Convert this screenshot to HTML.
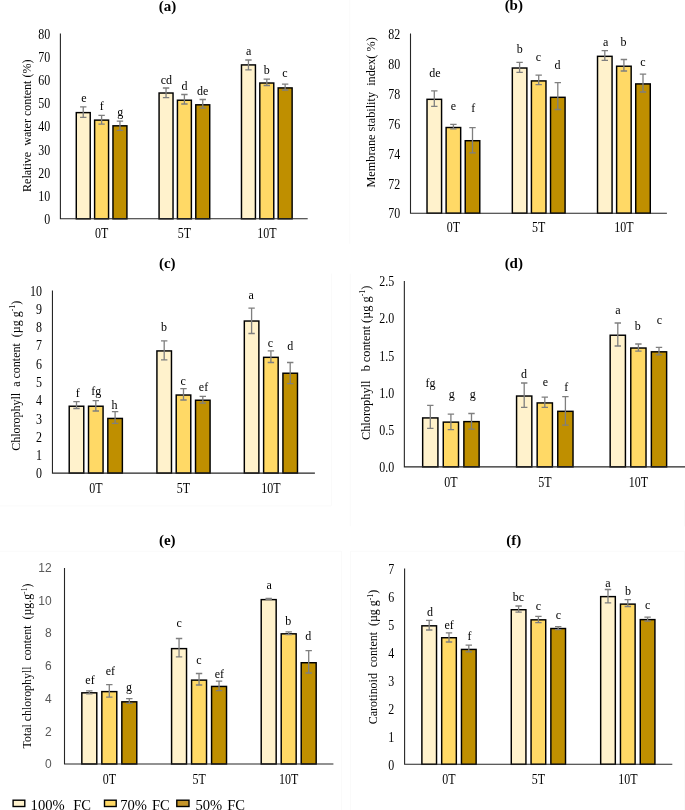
<!DOCTYPE html>
<html><head><meta charset="utf-8"><title>Chart</title>
<style>html,body{margin:0;padding:0;background:#fff;}svg{display:block;filter:blur(0.4px);}</style></head>
<body><svg width="685" height="810" viewBox="0 0 685 810">
<rect width="685" height="810" fill="#fff"/>
<path d="M684.5 551.2V810" stroke="#FAFAFA" stroke-width="1" fill="none"/>
<path d="M684.5 500V526.4" stroke="#FAFAFA" stroke-width="1" fill="none"/>
<path d="M350.5 551.2V810" stroke="#FAFAFA" stroke-width="1" fill="none"/>
<path d="M341.5 551.2V810" stroke="#FAFAFA" stroke-width="1" fill="none"/>
<path d="M350.5 551.2H685" stroke="#FAFAFA" stroke-width="1" fill="none"/>
<path d="M0 551.2H341.5" stroke="#FAFAFA" stroke-width="1" fill="none"/>
<path d="M0 505.9H331.4" stroke="#FAFAFA" stroke-width="1" fill="none"/>
<path d="M331.4 273.6V505.9" stroke="#FAFAFA" stroke-width="1" fill="none"/>
<path d="M350.3 273.6V526.4" stroke="#FAFAFA" stroke-width="1" fill="none"/>
<path d="M349.8 0V243.8" stroke="#FAFAFA" stroke-width="1" fill="none"/>
<g id="pa">
<rect x="76.28" y="112.62" width="13.95" height="106.18" fill="#FFF2CC" stroke="#000" stroke-width="1.45"/>
<rect x="94.62" y="120.12" width="13.95" height="98.68" fill="#FFD966" stroke="#000" stroke-width="1.45"/>
<rect x="112.97" y="125.82" width="13.95" height="92.98" fill="#BF8F00" stroke="#000" stroke-width="1.45"/>
<rect x="159.08" y="93.02" width="13.95" height="125.78" fill="#FFF2CC" stroke="#000" stroke-width="1.45"/>
<rect x="177.43" y="100.22" width="13.95" height="118.58" fill="#FFD966" stroke="#000" stroke-width="1.45"/>
<rect x="195.78" y="104.82" width="13.95" height="113.98" fill="#BF8F00" stroke="#000" stroke-width="1.45"/>
<rect x="241.48" y="64.92" width="13.95" height="153.88" fill="#FFF2CC" stroke="#000" stroke-width="1.45"/>
<rect x="259.82" y="83.02" width="13.95" height="135.78" fill="#FFD966" stroke="#000" stroke-width="1.45"/>
<rect x="278.18" y="87.92" width="13.95" height="130.88" fill="#BF8F00" stroke="#000" stroke-width="1.45"/>
<path d="M83.25 106.9V117.4M80.05 106.9H86.45M80.05 117.4H86.45" stroke="#7F7F7F" stroke-width="1.3" fill="none"/>
<path d="M101.6 115.4V124.1M98.4 115.4H104.8M98.4 124.1H104.8" stroke="#7F7F7F" stroke-width="1.3" fill="none"/>
<path d="M119.95 121.1V130.3M116.75 121.1H123.15M116.75 130.3H123.15" stroke="#7F7F7F" stroke-width="1.3" fill="none"/>
<path d="M166.05 88V97.7M162.85 88H169.25M162.85 97.7H169.25" stroke="#7F7F7F" stroke-width="1.3" fill="none"/>
<path d="M184.4 94.5V104M181.2 94.5H187.6M181.2 104H187.6" stroke="#7F7F7F" stroke-width="1.3" fill="none"/>
<path d="M202.75 99.5V108.2M199.55 99.5H205.95M199.55 108.2H205.95" stroke="#7F7F7F" stroke-width="1.3" fill="none"/>
<path d="M248.45 60V69.9M245.25 60H251.65M245.25 69.9H251.65" stroke="#7F7F7F" stroke-width="1.3" fill="none"/>
<path d="M266.8 79.1V85.5M263.6 79.1H270M263.6 85.5H270" stroke="#7F7F7F" stroke-width="1.3" fill="none"/>
<path d="M285.15 84.2V90M281.95 84.2H288.35M281.95 90H288.35" stroke="#7F7F7F" stroke-width="1.3" fill="none"/>
<path d="M60.4 33.6V218.8H307.7" stroke="#262626" stroke-width="1.1" fill="none"/>
<text transform="translate(50.3 224.03) scale(0.855 1)" font-family='"Liberation Serif", serif' font-size="14.0" fill="#000" text-anchor="end">0</text>
<text transform="translate(50.3 200.88) scale(0.855 1)" font-family='"Liberation Serif", serif' font-size="14.0" fill="#000" text-anchor="end">10</text>
<text transform="translate(50.3 177.73) scale(0.855 1)" font-family='"Liberation Serif", serif' font-size="14.0" fill="#000" text-anchor="end">20</text>
<text transform="translate(50.3 154.58) scale(0.855 1)" font-family='"Liberation Serif", serif' font-size="14.0" fill="#000" text-anchor="end">30</text>
<text transform="translate(50.3 131.43) scale(0.855 1)" font-family='"Liberation Serif", serif' font-size="14.0" fill="#000" text-anchor="end">40</text>
<text transform="translate(50.3 108.28) scale(0.855 1)" font-family='"Liberation Serif", serif' font-size="14.0" fill="#000" text-anchor="end">50</text>
<text transform="translate(50.3 85.13) scale(0.855 1)" font-family='"Liberation Serif", serif' font-size="14.0" fill="#000" text-anchor="end">60</text>
<text transform="translate(50.3 61.98) scale(0.855 1)" font-family='"Liberation Serif", serif' font-size="14.0" fill="#000" text-anchor="end">70</text>
<text transform="translate(50.3 38.83) scale(0.855 1)" font-family='"Liberation Serif", serif' font-size="14.0" fill="#000" text-anchor="end">80</text>
<text transform="translate(101.6 238.03) scale(0.855 1)" font-family='"Liberation Serif", serif' font-size="14.0" text-anchor="middle">0T</text>
<text transform="translate(184.4 238.03) scale(0.855 1)" font-family='"Liberation Serif", serif' font-size="14.0" text-anchor="middle">5T</text>
<text transform="translate(266.8 238.03) scale(0.855 1)" font-family='"Liberation Serif", serif' font-size="14.0" text-anchor="middle">10T</text>
<text x="83.9" y="102.05" font-family='"Liberation Serif", serif' font-size="12" text-anchor="middle">e</text>
<text x="101.7" y="110.1" font-family='"Liberation Serif", serif' font-size="12" text-anchor="middle">f</text>
<text x="120.3" y="115.55" font-family='"Liberation Serif", serif' font-size="12" text-anchor="middle">g</text>
<text x="166.3" y="84.2" font-family='"Liberation Serif", serif' font-size="12" text-anchor="middle">cd</text>
<text x="184.4" y="90" font-family='"Liberation Serif", serif' font-size="12" text-anchor="middle">d</text>
<text x="202.7" y="95.1" font-family='"Liberation Serif", serif' font-size="12" text-anchor="middle">de</text>
<text x="248.7" y="54.85" font-family='"Liberation Serif", serif' font-size="12" text-anchor="middle">a</text>
<text x="266.8" y="74.1" font-family='"Liberation Serif", serif' font-size="12" text-anchor="middle">b</text>
<text x="284.9" y="77.15" font-family='"Liberation Serif", serif' font-size="12" text-anchor="middle">c</text>
<text x="167.5" y="10.5" font-family='"Liberation Serif", serif' font-size="15" font-weight="bold" text-anchor="middle">(a)</text>
<text transform="translate(31 125.7) rotate(-90)" font-family='"Liberation Serif", serif' font-size="12.05" text-anchor="middle" style="white-space:pre">Relative  water content (%)</text>
</g>
<g id="pb">
<rect x="427.02" y="99.32" width="14.55" height="113.88" fill="#FFF2CC" stroke="#000" stroke-width="1.45"/>
<rect x="446.12" y="127.52" width="14.55" height="85.67" fill="#FFD966" stroke="#000" stroke-width="1.45"/>
<rect x="465.23" y="140.72" width="14.55" height="72.47" fill="#BF8F00" stroke="#000" stroke-width="1.45"/>
<rect x="512.33" y="68.02" width="14.55" height="145.18" fill="#FFF2CC" stroke="#000" stroke-width="1.45"/>
<rect x="531.43" y="80.92" width="14.55" height="132.27" fill="#FFD966" stroke="#000" stroke-width="1.45"/>
<rect x="550.53" y="97.32" width="14.55" height="115.88" fill="#BF8F00" stroke="#000" stroke-width="1.45"/>
<rect x="597.52" y="56.33" width="14.55" height="156.88" fill="#FFF2CC" stroke="#000" stroke-width="1.45"/>
<rect x="616.62" y="66.22" width="14.55" height="146.97" fill="#FFD966" stroke="#000" stroke-width="1.45"/>
<rect x="635.73" y="83.92" width="14.55" height="129.27" fill="#BF8F00" stroke="#000" stroke-width="1.45"/>
<path d="M434.3 90.9V106.3M431.1 90.9H437.5M431.1 106.3H437.5" stroke="#7F7F7F" stroke-width="1.3" fill="none"/>
<path d="M453.4 124.4V128.8M450.2 124.4H456.6M450.2 128.8H456.6" stroke="#7F7F7F" stroke-width="1.3" fill="none"/>
<path d="M472.5 127.6V152.9M469.3 127.6H475.7M469.3 152.9H475.7" stroke="#7F7F7F" stroke-width="1.3" fill="none"/>
<path d="M519.6 62.3V72.3M516.4 62.3H522.8M516.4 72.3H522.8" stroke="#7F7F7F" stroke-width="1.3" fill="none"/>
<path d="M538.7 75.2V84.7M535.5 75.2H541.9M535.5 84.7H541.9" stroke="#7F7F7F" stroke-width="1.3" fill="none"/>
<path d="M557.8 82.7V109.5M554.6 82.7H561M554.6 109.5H561" stroke="#7F7F7F" stroke-width="1.3" fill="none"/>
<path d="M604.8 50.7V60.3M601.6 50.7H608M601.6 60.3H608" stroke="#7F7F7F" stroke-width="1.3" fill="none"/>
<path d="M623.9 59.5V71M620.7 59.5H627.1M620.7 71H627.1" stroke="#7F7F7F" stroke-width="1.3" fill="none"/>
<path d="M643 74.1V92M639.8 74.1H646.2M639.8 92H646.2" stroke="#7F7F7F" stroke-width="1.3" fill="none"/>
<path d="M410.5 33.6V213.2H666.9" stroke="#262626" stroke-width="1.1" fill="none"/>
<text transform="translate(400.2 218.43) scale(0.855 1)" font-family='"Liberation Serif", serif' font-size="14.0" fill="#000" text-anchor="end">70</text>
<text transform="translate(400.2 188.5) scale(0.855 1)" font-family='"Liberation Serif", serif' font-size="14.0" fill="#000" text-anchor="end">72</text>
<text transform="translate(400.2 158.57) scale(0.855 1)" font-family='"Liberation Serif", serif' font-size="14.0" fill="#000" text-anchor="end">74</text>
<text transform="translate(400.2 128.63) scale(0.855 1)" font-family='"Liberation Serif", serif' font-size="14.0" fill="#000" text-anchor="end">76</text>
<text transform="translate(400.2 98.7) scale(0.855 1)" font-family='"Liberation Serif", serif' font-size="14.0" fill="#000" text-anchor="end">78</text>
<text transform="translate(400.2 68.77) scale(0.855 1)" font-family='"Liberation Serif", serif' font-size="14.0" fill="#000" text-anchor="end">80</text>
<text transform="translate(400.2 38.83) scale(0.855 1)" font-family='"Liberation Serif", serif' font-size="14.0" fill="#000" text-anchor="end">82</text>
<text transform="translate(453.4 231.53) scale(0.855 1)" font-family='"Liberation Serif", serif' font-size="14.0" text-anchor="middle">0T</text>
<text transform="translate(538.7 231.53) scale(0.855 1)" font-family='"Liberation Serif", serif' font-size="14.0" text-anchor="middle">5T</text>
<text transform="translate(623.9 231.53) scale(0.855 1)" font-family='"Liberation Serif", serif' font-size="14.0" text-anchor="middle">10T</text>
<text x="434.8" y="77.1" font-family='"Liberation Serif", serif' font-size="12" text-anchor="middle">de</text>
<text x="453.4" y="109.75" font-family='"Liberation Serif", serif' font-size="12" text-anchor="middle">e</text>
<text x="473.3" y="111.6" font-family='"Liberation Serif", serif' font-size="12" text-anchor="middle">f</text>
<text x="519.7" y="53.3" font-family='"Liberation Serif", serif' font-size="12" text-anchor="middle">b</text>
<text x="538.5" y="60.65" font-family='"Liberation Serif", serif' font-size="12" text-anchor="middle">c</text>
<text x="557.6" y="69.4" font-family='"Liberation Serif", serif' font-size="12" text-anchor="middle">d</text>
<text x="605.6" y="45.75" font-family='"Liberation Serif", serif' font-size="12" text-anchor="middle">a</text>
<text x="623.4" y="46.3" font-family='"Liberation Serif", serif' font-size="12" text-anchor="middle">b</text>
<text x="643" y="66.15" font-family='"Liberation Serif", serif' font-size="12" text-anchor="middle">c</text>
<text x="513.8" y="10.3" font-family='"Liberation Serif", serif' font-size="15" font-weight="bold" text-anchor="middle">(b)</text>
<text transform="translate(374.9 112.4) rotate(-90)" font-family='"Liberation Serif", serif' font-size="12.25" text-anchor="middle" style="white-space:pre">Membrane stability  index( %)</text>
</g>
<g id="pc">
<rect x="69.22" y="406.23" width="14.55" height="66.88" fill="#FFF2CC" stroke="#000" stroke-width="1.45"/>
<rect x="88.52" y="406.23" width="14.55" height="66.88" fill="#FFD966" stroke="#000" stroke-width="1.45"/>
<rect x="107.82" y="418.43" width="14.55" height="54.68" fill="#BF8F00" stroke="#000" stroke-width="1.45"/>
<rect x="156.92" y="350.93" width="14.55" height="122.18" fill="#FFF2CC" stroke="#000" stroke-width="1.45"/>
<rect x="176.22" y="395.03" width="14.55" height="78.07" fill="#FFD966" stroke="#000" stroke-width="1.45"/>
<rect x="195.53" y="400.23" width="14.55" height="72.88" fill="#BF8F00" stroke="#000" stroke-width="1.45"/>
<rect x="244.32" y="321.03" width="14.55" height="152.07" fill="#FFF2CC" stroke="#000" stroke-width="1.45"/>
<rect x="263.62" y="357.33" width="14.55" height="115.77" fill="#FFD966" stroke="#000" stroke-width="1.45"/>
<rect x="282.93" y="373.23" width="14.55" height="99.88" fill="#BF8F00" stroke="#000" stroke-width="1.45"/>
<path d="M76.5 401.6V408.5M73.3 401.6H79.7M73.3 408.5H79.7" stroke="#7F7F7F" stroke-width="1.3" fill="none"/>
<path d="M95.8 400.6V411M92.6 400.6H99M92.6 411H99" stroke="#7F7F7F" stroke-width="1.3" fill="none"/>
<path d="M115.1 411.7V423.4M111.9 411.7H118.3M111.9 423.4H118.3" stroke="#7F7F7F" stroke-width="1.3" fill="none"/>
<path d="M164.2 340.8V359.9M161 340.8H167.4M161 359.9H167.4" stroke="#7F7F7F" stroke-width="1.3" fill="none"/>
<path d="M183.5 388.6V400M180.3 388.6H186.7M180.3 400H186.7" stroke="#7F7F7F" stroke-width="1.3" fill="none"/>
<path d="M202.8 396.3V403.2M199.6 396.3H206M199.6 403.2H206" stroke="#7F7F7F" stroke-width="1.3" fill="none"/>
<path d="M251.6 308.2V333.5M248.4 308.2H254.8M248.4 333.5H254.8" stroke="#7F7F7F" stroke-width="1.3" fill="none"/>
<path d="M270.9 350.9V362.5M267.7 350.9H274.1M267.7 362.5H274.1" stroke="#7F7F7F" stroke-width="1.3" fill="none"/>
<path d="M290.2 362.5V383.6M287 362.5H293.4M287 383.6H293.4" stroke="#7F7F7F" stroke-width="1.3" fill="none"/>
<path d="M52.45 290.4V473.1H314.9" stroke="#262626" stroke-width="1.1" fill="none"/>
<text transform="translate(42 478.33) scale(0.855 1)" font-family='"Liberation Serif", serif' font-size="14.0" fill="#000" text-anchor="end">0</text>
<text transform="translate(42 460.06) scale(0.855 1)" font-family='"Liberation Serif", serif' font-size="14.0" fill="#000" text-anchor="end">1</text>
<text transform="translate(42 441.79) scale(0.855 1)" font-family='"Liberation Serif", serif' font-size="14.0" fill="#000" text-anchor="end">2</text>
<text transform="translate(42 423.52) scale(0.855 1)" font-family='"Liberation Serif", serif' font-size="14.0" fill="#000" text-anchor="end">3</text>
<text transform="translate(42 405.25) scale(0.855 1)" font-family='"Liberation Serif", serif' font-size="14.0" fill="#000" text-anchor="end">4</text>
<text transform="translate(42 386.98) scale(0.855 1)" font-family='"Liberation Serif", serif' font-size="14.0" fill="#000" text-anchor="end">5</text>
<text transform="translate(42 368.71) scale(0.855 1)" font-family='"Liberation Serif", serif' font-size="14.0" fill="#000" text-anchor="end">6</text>
<text transform="translate(42 350.44) scale(0.855 1)" font-family='"Liberation Serif", serif' font-size="14.0" fill="#000" text-anchor="end">7</text>
<text transform="translate(42 332.17) scale(0.855 1)" font-family='"Liberation Serif", serif' font-size="14.0" fill="#000" text-anchor="end">8</text>
<text transform="translate(42 313.9) scale(0.855 1)" font-family='"Liberation Serif", serif' font-size="14.0" fill="#000" text-anchor="end">9</text>
<text transform="translate(42 295.63) scale(0.855 1)" font-family='"Liberation Serif", serif' font-size="14.0" fill="#000" text-anchor="end">10</text>
<text transform="translate(95.8 492.93) scale(0.855 1)" font-family='"Liberation Serif", serif' font-size="14.0" text-anchor="middle">0T</text>
<text transform="translate(183.5 492.93) scale(0.855 1)" font-family='"Liberation Serif", serif' font-size="14.0" text-anchor="middle">5T</text>
<text transform="translate(270.9 492.93) scale(0.855 1)" font-family='"Liberation Serif", serif' font-size="14.0" text-anchor="middle">10T</text>
<text x="77.7" y="396.5" font-family='"Liberation Serif", serif' font-size="12" text-anchor="middle">f</text>
<text x="96.3" y="394.8" font-family='"Liberation Serif", serif' font-size="12" text-anchor="middle">fg</text>
<text x="114.6" y="408.9" font-family='"Liberation Serif", serif' font-size="12" text-anchor="middle">h</text>
<text x="164" y="330.7" font-family='"Liberation Serif", serif' font-size="12" text-anchor="middle">b</text>
<text x="183.2" y="384.65" font-family='"Liberation Serif", serif' font-size="12" text-anchor="middle">c</text>
<text x="203.5" y="390.9" font-family='"Liberation Serif", serif' font-size="12" text-anchor="middle">ef</text>
<text x="251.1" y="299.35" font-family='"Liberation Serif", serif' font-size="12" text-anchor="middle">a</text>
<text x="270.5" y="346.95" font-family='"Liberation Serif", serif' font-size="12" text-anchor="middle">c</text>
<text x="290.3" y="350" font-family='"Liberation Serif", serif' font-size="12" text-anchor="middle">d</text>
<text x="167.3" y="268" font-family='"Liberation Serif", serif' font-size="15" font-weight="bold" text-anchor="middle">(c)</text>
<text transform="translate(19.8 375.8) rotate(-90)" font-family='"Liberation Serif", serif' font-size="12.0" text-anchor="middle" style="white-space:pre">Chlorophyll  a content  (µg g<tspan font-size="7.8" dy="-4.6">-1</tspan><tspan dy="4.6">)</tspan></text>
</g>
<g id="pd">
<rect x="422.67" y="417.93" width="15.25" height="48.93" fill="#FFF2CC" stroke="#000" stroke-width="1.45"/>
<rect x="443.27" y="422.12" width="15.25" height="44.73" fill="#FFD966" stroke="#000" stroke-width="1.45"/>
<rect x="463.88" y="421.62" width="15.25" height="45.23" fill="#BF8F00" stroke="#000" stroke-width="1.45"/>
<rect x="516.57" y="396.03" width="15.25" height="70.82" fill="#FFF2CC" stroke="#000" stroke-width="1.45"/>
<rect x="537.17" y="402.93" width="15.25" height="63.93" fill="#FFD966" stroke="#000" stroke-width="1.45"/>
<rect x="557.77" y="411.33" width="15.25" height="55.52" fill="#BF8F00" stroke="#000" stroke-width="1.45"/>
<rect x="610.17" y="335.23" width="15.25" height="131.62" fill="#FFF2CC" stroke="#000" stroke-width="1.45"/>
<rect x="630.77" y="348.03" width="15.25" height="118.82" fill="#FFD966" stroke="#000" stroke-width="1.45"/>
<rect x="651.38" y="351.83" width="15.25" height="115.02" fill="#BF8F00" stroke="#000" stroke-width="1.45"/>
<path d="M430.3 405.3V428.3M427.1 405.3H433.5M427.1 428.3H433.5" stroke="#7F7F7F" stroke-width="1.3" fill="none"/>
<path d="M450.9 414.2V429.6M447.7 414.2H454.1M447.7 429.6H454.1" stroke="#7F7F7F" stroke-width="1.3" fill="none"/>
<path d="M471.5 413.5V429.1M468.3 413.5H474.7M468.3 429.1H474.7" stroke="#7F7F7F" stroke-width="1.3" fill="none"/>
<path d="M524.2 383V407.3M521 383H527.4M521 407.3H527.4" stroke="#7F7F7F" stroke-width="1.3" fill="none"/>
<path d="M544.8 397.1V407.3M541.6 397.1H548M541.6 407.3H548" stroke="#7F7F7F" stroke-width="1.3" fill="none"/>
<path d="M565.4 396.6V425.2M562.2 396.6H568.6M562.2 425.2H568.6" stroke="#7F7F7F" stroke-width="1.3" fill="none"/>
<path d="M617.8 323V346M614.6 323H621M614.6 346H621" stroke="#7F7F7F" stroke-width="1.3" fill="none"/>
<path d="M638.4 344V351.1M635.2 344H641.6M635.2 351.1H641.6" stroke="#7F7F7F" stroke-width="1.3" fill="none"/>
<path d="M659 347.3V354.9M655.8 347.3H662.2M655.8 354.9H662.2" stroke="#7F7F7F" stroke-width="1.3" fill="none"/>
<path d="M404.35 281V466.85H685" stroke="#262626" stroke-width="1.1" fill="none"/>
<text transform="translate(394.3 472.08) scale(0.855 1)" font-family='"Liberation Serif", serif' font-size="14.0" fill="#000" text-anchor="end">0.0</text>
<text transform="translate(394.3 434.91) scale(0.855 1)" font-family='"Liberation Serif", serif' font-size="14.0" fill="#000" text-anchor="end">0.5</text>
<text transform="translate(394.3 397.74) scale(0.855 1)" font-family='"Liberation Serif", serif' font-size="14.0" fill="#000" text-anchor="end">1.0</text>
<text transform="translate(394.3 360.57) scale(0.855 1)" font-family='"Liberation Serif", serif' font-size="14.0" fill="#000" text-anchor="end">1.5</text>
<text transform="translate(394.3 323.4) scale(0.855 1)" font-family='"Liberation Serif", serif' font-size="14.0" fill="#000" text-anchor="end">2.0</text>
<text transform="translate(394.3 286.23) scale(0.855 1)" font-family='"Liberation Serif", serif' font-size="14.0" fill="#000" text-anchor="end">2.5</text>
<text transform="translate(450.9 486.73) scale(0.855 1)" font-family='"Liberation Serif", serif' font-size="14.0" text-anchor="middle">0T</text>
<text transform="translate(544.8 486.73) scale(0.855 1)" font-family='"Liberation Serif", serif' font-size="14.0" text-anchor="middle">5T</text>
<text transform="translate(638.4 486.73) scale(0.855 1)" font-family='"Liberation Serif", serif' font-size="14.0" text-anchor="middle">10T</text>
<text x="430.6" y="387.2" font-family='"Liberation Serif", serif' font-size="12" text-anchor="middle">fg</text>
<text x="451.7" y="398.05" font-family='"Liberation Serif", serif' font-size="12" text-anchor="middle">g</text>
<text x="472.8" y="398.05" font-family='"Liberation Serif", serif' font-size="12" text-anchor="middle">g</text>
<text x="524" y="378.2" font-family='"Liberation Serif", serif' font-size="12" text-anchor="middle">d</text>
<text x="545.3" y="385.75" font-family='"Liberation Serif", serif' font-size="12" text-anchor="middle">e</text>
<text x="566.2" y="390.5" font-family='"Liberation Serif", serif' font-size="12" text-anchor="middle">f</text>
<text x="617.8" y="314.25" font-family='"Liberation Serif", serif' font-size="12" text-anchor="middle">a</text>
<text x="637.7" y="330.4" font-family='"Liberation Serif", serif' font-size="12" text-anchor="middle">b</text>
<text x="659.5" y="324.45" font-family='"Liberation Serif", serif' font-size="12" text-anchor="middle">c</text>
<text x="513.8" y="268" font-family='"Liberation Serif", serif' font-size="15" font-weight="bold" text-anchor="middle">(d)</text>
<text transform="translate(369.5 362.8) rotate(-90)" font-family='"Liberation Serif", serif' font-size="12.3" text-anchor="middle" style="white-space:pre">Chlorophyll   b content (µg g<tspan font-size="8.0" dy="-4.7">-1</tspan><tspan dy="4.7">)</tspan></text>
</g>
<g id="pe">
<rect x="81.83" y="692.83" width="14.95" height="71.17" fill="#FFF2CC" stroke="#000" stroke-width="1.45"/>
<rect x="101.83" y="691.62" width="14.95" height="72.38" fill="#FFD966" stroke="#000" stroke-width="1.45"/>
<rect x="121.83" y="701.83" width="14.95" height="62.17" fill="#BF8F00" stroke="#000" stroke-width="1.45"/>
<rect x="171.58" y="648.62" width="14.95" height="115.38" fill="#FFF2CC" stroke="#000" stroke-width="1.45"/>
<rect x="191.58" y="680.12" width="14.95" height="83.88" fill="#FFD966" stroke="#000" stroke-width="1.45"/>
<rect x="211.58" y="686.43" width="14.95" height="77.57" fill="#BF8F00" stroke="#000" stroke-width="1.45"/>
<rect x="261.22" y="599.62" width="14.95" height="164.38" fill="#FFF2CC" stroke="#000" stroke-width="1.45"/>
<rect x="281.22" y="633.83" width="14.95" height="130.17" fill="#FFD966" stroke="#000" stroke-width="1.45"/>
<rect x="301.22" y="662.73" width="14.95" height="101.27" fill="#BF8F00" stroke="#000" stroke-width="1.45"/>
<path d="M89.3 690.9V693.9M86.1 690.9H92.5M86.1 693.9H92.5" stroke="#7F7F7F" stroke-width="1.3" fill="none"/>
<path d="M109.3 684.7V697.1M106.1 684.7H112.5M106.1 697.1H112.5" stroke="#7F7F7F" stroke-width="1.3" fill="none"/>
<path d="M129.3 698.6V703.3M126.1 698.6H132.5M126.1 703.3H132.5" stroke="#7F7F7F" stroke-width="1.3" fill="none"/>
<path d="M179.05 638.5V656.9M175.85 638.5H182.25M175.85 656.9H182.25" stroke="#7F7F7F" stroke-width="1.3" fill="none"/>
<path d="M199.05 673.5V685M195.85 673.5H202.25M195.85 685H202.25" stroke="#7F7F7F" stroke-width="1.3" fill="none"/>
<path d="M219.05 681.1V690.6M215.85 681.1H222.25M215.85 690.6H222.25" stroke="#7F7F7F" stroke-width="1.3" fill="none"/>
<path d="M268.7 598.4V599.4M265.5 598.4H271.9M265.5 599.4H271.9" stroke="#7F7F7F" stroke-width="1.3" fill="none"/>
<path d="M288.7 631.8V634.6M285.5 631.8H291.9M285.5 634.6H291.9" stroke="#7F7F7F" stroke-width="1.3" fill="none"/>
<path d="M308.7 650.7V673M305.5 650.7H311.9M305.5 673H311.9" stroke="#7F7F7F" stroke-width="1.3" fill="none"/>
<path d="M64.5 568V764H333.4" stroke="#262626" stroke-width="1.1" fill="none"/>
<text x="51.6" y="768.3" font-family='"Liberation Sans", sans-serif' font-size="12" fill="#595959" text-anchor="end">0</text>
<text x="51.6" y="735.55" font-family='"Liberation Sans", sans-serif' font-size="12" fill="#595959" text-anchor="end">2</text>
<text x="51.6" y="702.8" font-family='"Liberation Sans", sans-serif' font-size="12" fill="#595959" text-anchor="end">4</text>
<text x="51.6" y="670.05" font-family='"Liberation Sans", sans-serif' font-size="12" fill="#595959" text-anchor="end">6</text>
<text x="51.6" y="637.3" font-family='"Liberation Sans", sans-serif' font-size="12" fill="#595959" text-anchor="end">8</text>
<text x="51.6" y="604.55" font-family='"Liberation Sans", sans-serif' font-size="12" fill="#595959" text-anchor="end">10</text>
<text x="51.6" y="571.8" font-family='"Liberation Sans", sans-serif' font-size="12" fill="#595959" text-anchor="end">12</text>
<text transform="translate(109.3 784.33) scale(0.855 1)" font-family='"Liberation Serif", serif' font-size="14.0" text-anchor="middle">0T</text>
<text transform="translate(199.05 784.33) scale(0.855 1)" font-family='"Liberation Serif", serif' font-size="14.0" text-anchor="middle">5T</text>
<text transform="translate(288.7 784.33) scale(0.855 1)" font-family='"Liberation Serif", serif' font-size="14.0" text-anchor="middle">10T</text>
<text x="90" y="683.8" font-family='"Liberation Serif", serif' font-size="12" text-anchor="middle">ef</text>
<text x="110.4" y="674.7" font-family='"Liberation Serif", serif' font-size="12" text-anchor="middle">ef</text>
<text x="129" y="691.15" font-family='"Liberation Serif", serif' font-size="12" text-anchor="middle">g</text>
<text x="179.2" y="627.15" font-family='"Liberation Serif", serif' font-size="12" text-anchor="middle">c</text>
<text x="198.8" y="663.95" font-family='"Liberation Serif", serif' font-size="12" text-anchor="middle">c</text>
<text x="219.3" y="677.6" font-family='"Liberation Serif", serif' font-size="12" text-anchor="middle">ef</text>
<text x="269.1" y="589.35" font-family='"Liberation Serif", serif' font-size="12" text-anchor="middle">a</text>
<text x="288.3" y="625.2" font-family='"Liberation Serif", serif' font-size="12" text-anchor="middle">b</text>
<text x="308.2" y="640" font-family='"Liberation Serif", serif' font-size="12" text-anchor="middle">d</text>
<text x="167.3" y="545.3" font-family='"Liberation Serif", serif' font-size="15" font-weight="bold" text-anchor="middle">(e)</text>
<text transform="translate(31.3 666) rotate(-90)" font-family='"Liberation Serif", serif' font-size="11.9" text-anchor="middle" style="white-space:pre">Total chlorophyll  content  (µg.g<tspan font-size="7.7" dy="-4.5">-1</tspan><tspan dy="4.5">)</tspan></text>
</g>
<g id="pf">
<rect x="421.88" y="625.83" width="14.65" height="138.47" fill="#FFF2CC" stroke="#000" stroke-width="1.45"/>
<rect x="441.68" y="637.73" width="14.65" height="126.57" fill="#FFD966" stroke="#000" stroke-width="1.45"/>
<rect x="461.48" y="649.43" width="14.65" height="114.87" fill="#BF8F00" stroke="#000" stroke-width="1.45"/>
<rect x="511.28" y="609.73" width="14.65" height="154.57" fill="#FFF2CC" stroke="#000" stroke-width="1.45"/>
<rect x="531.07" y="619.83" width="14.65" height="144.47" fill="#FFD966" stroke="#000" stroke-width="1.45"/>
<rect x="550.87" y="628.52" width="14.65" height="135.77" fill="#BF8F00" stroke="#000" stroke-width="1.45"/>
<rect x="600.67" y="596.62" width="14.65" height="167.67" fill="#FFF2CC" stroke="#000" stroke-width="1.45"/>
<rect x="620.47" y="604.12" width="14.65" height="160.17" fill="#FFD966" stroke="#000" stroke-width="1.45"/>
<rect x="640.27" y="619.62" width="14.65" height="144.67" fill="#BF8F00" stroke="#000" stroke-width="1.45"/>
<path d="M429.2 620.4V630M426 620.4H432.4M426 630H432.4" stroke="#7F7F7F" stroke-width="1.3" fill="none"/>
<path d="M449 632.8V642M445.8 632.8H452.2M445.8 642H452.2" stroke="#7F7F7F" stroke-width="1.3" fill="none"/>
<path d="M468.8 645.2V651.9M465.6 645.2H472M465.6 651.9H472" stroke="#7F7F7F" stroke-width="1.3" fill="none"/>
<path d="M518.6 606V612.2M515.4 606H521.8M515.4 612.2H521.8" stroke="#7F7F7F" stroke-width="1.3" fill="none"/>
<path d="M538.4 616.4V622.6M535.2 616.4H541.6M535.2 622.6H541.6" stroke="#7F7F7F" stroke-width="1.3" fill="none"/>
<path d="M558.2 626.6V629.6M555 626.6H561.4M555 629.6H561.4" stroke="#7F7F7F" stroke-width="1.3" fill="none"/>
<path d="M608 589.5V602.8M604.8 589.5H611.2M604.8 602.8H611.2" stroke="#7F7F7F" stroke-width="1.3" fill="none"/>
<path d="M627.8 599.7V606.5M624.6 599.7H631M624.6 606.5H631" stroke="#7F7F7F" stroke-width="1.3" fill="none"/>
<path d="M647.6 617.1V621.1M644.4 617.1H650.8M644.4 621.1H650.8" stroke="#7F7F7F" stroke-width="1.3" fill="none"/>
<path d="M404.6 568.4V764.3H672.3" stroke="#262626" stroke-width="1.1" fill="none"/>
<text transform="translate(394.3 769.53) scale(0.855 1)" font-family='"Liberation Serif", serif' font-size="14.0" fill="#000" text-anchor="end">0</text>
<text transform="translate(394.3 741.55) scale(0.855 1)" font-family='"Liberation Serif", serif' font-size="14.0" fill="#000" text-anchor="end">1</text>
<text transform="translate(394.3 713.56) scale(0.855 1)" font-family='"Liberation Serif", serif' font-size="14.0" fill="#000" text-anchor="end">2</text>
<text transform="translate(394.3 685.58) scale(0.855 1)" font-family='"Liberation Serif", serif' font-size="14.0" fill="#000" text-anchor="end">3</text>
<text transform="translate(394.3 657.59) scale(0.855 1)" font-family='"Liberation Serif", serif' font-size="14.0" fill="#000" text-anchor="end">4</text>
<text transform="translate(394.3 629.61) scale(0.855 1)" font-family='"Liberation Serif", serif' font-size="14.0" fill="#000" text-anchor="end">5</text>
<text transform="translate(394.3 601.62) scale(0.855 1)" font-family='"Liberation Serif", serif' font-size="14.0" fill="#000" text-anchor="end">6</text>
<text transform="translate(394.3 573.63) scale(0.855 1)" font-family='"Liberation Serif", serif' font-size="14.0" fill="#000" text-anchor="end">7</text>
<text transform="translate(449 783.93) scale(0.855 1)" font-family='"Liberation Serif", serif' font-size="14.0" text-anchor="middle">0T</text>
<text transform="translate(538.4 783.93) scale(0.855 1)" font-family='"Liberation Serif", serif' font-size="14.0" text-anchor="middle">5T</text>
<text transform="translate(627.8 783.93) scale(0.855 1)" font-family='"Liberation Serif", serif' font-size="14.0" text-anchor="middle">10T</text>
<text x="429.9" y="616.3" font-family='"Liberation Serif", serif' font-size="12" text-anchor="middle">d</text>
<text x="449.2" y="628.7" font-family='"Liberation Serif", serif' font-size="12" text-anchor="middle">ef</text>
<text x="469.6" y="639.9" font-family='"Liberation Serif", serif' font-size="12" text-anchor="middle">f</text>
<text x="518.4" y="600.7" font-family='"Liberation Serif", serif' font-size="12" text-anchor="middle">bc</text>
<text x="538.3" y="609.95" font-family='"Liberation Serif", serif' font-size="12" text-anchor="middle">c</text>
<text x="558.4" y="618.65" font-family='"Liberation Serif", serif' font-size="12" text-anchor="middle">c</text>
<text x="607.8" y="586.95" font-family='"Liberation Serif", serif' font-size="12" text-anchor="middle">a</text>
<text x="627.9" y="594.7" font-family='"Liberation Serif", serif' font-size="12" text-anchor="middle">b</text>
<text x="647.6" y="609.25" font-family='"Liberation Serif", serif' font-size="12" text-anchor="middle">c</text>
<text x="513.7" y="545.3" font-family='"Liberation Serif", serif' font-size="15" font-weight="bold" text-anchor="middle">(f)</text>
<text transform="translate(377 657) rotate(-90)" font-family='"Liberation Serif", serif' font-size="11.95" text-anchor="middle" style="white-space:pre">Carotinoid  content  (µg g<tspan font-size="7.8" dy="-4.5">-1</tspan><tspan dy="4.5">)</tspan></text>
</g>
<rect x="13.1" y="800.2" width="11.7" height="6.3" fill="#FFF2CC" stroke="#000" stroke-width="1.4"/>
<text x="30.6" y="809.6" font-family='"Liberation Serif", serif' font-size="14.6" word-spacing="0.6" style="white-space:pre">100%  FC</text>
<rect x="104.5" y="800.2" width="11.7" height="6.3" fill="#FFD966" stroke="#000" stroke-width="1.4"/>
<text x="120.2" y="809.6" font-family='"Liberation Serif", serif' font-size="14.6" word-spacing="1.3" style="white-space:pre">70% FC</text>
<rect x="176.8" y="800.2" width="12.2" height="6.3" fill="#C4952A" stroke="#000" stroke-width="1.4"/>
<text x="195.5" y="809.6" font-family='"Liberation Serif", serif' font-size="14.6" word-spacing="1.3" style="white-space:pre">50% FC</text>
</svg></body></html>
